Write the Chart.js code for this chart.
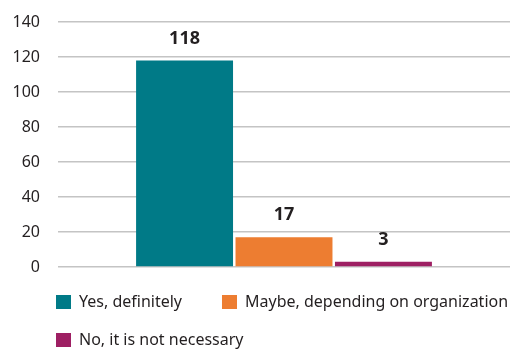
<!DOCTYPE html>
<html>
<head>
<meta charset="utf-8">
<script src="https://cdn.jsdelivr.net/npm/chart.js@4/dist/chart.umd.min.js"></script>
<style>
  html, body { margin: 0; padding: 0; background: #ffffff; }
  #wrap { position: relative; width: 513px; height: 350px; }
</style>
</head>
<body>
<div id="wrap"><canvas id="c" width="513" height="350"></canvas></div>
<script>
const categories = [""];
const seriesLabels = ["Yes, definitely", "Maybe, depending on organization", "No, it is not necessary"];
const seriesValues = [[118], [17], [3]];
const seriesColors = ["#007a87", "#ed7d31", "#9e1f63"];
const yTicks = { min: 0, max: 140, step: 20 };

const TEXT = "#231f20";
const FONT = "'Noto Sans', 'Open Sans', sans-serif";

const valueLabels = {
  id: "valueLabels",
  afterDatasetsDraw(chart) {
    const ctx = chart.ctx;
    ctx.save();
    ctx.font = "bold 18px " + FONT;
    ctx.fillStyle = TEXT;
    ctx.textAlign = "center";
    ctx.textBaseline = "middle";
    chart.data.datasets.forEach((ds, i) => {
      chart.getDatasetMeta(i).data.forEach((bar, j) => {
        ctx.fillText(String(ds.data[j]), bar.x, bar.y - 22);
      });
    });
    ctx.restore();
  }
};

const bottomLegend = {
  id: "bottomLegend",
  afterDraw(chart) {
    const ctx = chart.ctx;
    ctx.save();
    ctx.font = "16px " + FONT;
    ctx.textBaseline = "middle";
    ctx.textAlign = "left";
    const startX = 56, boxW = 15, boxH = 14, gapText = 8, gapItem = 40;
    const rowY = [302, 340];
    const maxRight = 513;
    let x = startX, row = 0;
    chart.data.datasets.forEach((ds, i) => {
      const tw = ctx.measureText(ds.label).width;
      const w = boxW + gapText + tw;
      if (i > 0 && x + w > maxRight) { row++; x = startX; }
      const cy = rowY[row];
      ctx.fillStyle = ds.backgroundColor;
      ctx.fillRect(x, cy - boxH / 2, boxW, boxH);
      ctx.fillStyle = TEXT;
      ctx.fillText(ds.label, x + boxW + gapText, cy);
      x += w + gapItem;
    });
    ctx.restore();
  }
};

new Chart(document.getElementById("c"), {
  type: "bar",
  data: {
    labels: categories,
    datasets: seriesLabels.map((label, i) => ({
      label,
      data: seriesValues[i],
      backgroundColor: seriesColors[i],
      borderWidth: 0,
      categoryPercentage: 0.66,
      barPercentage: 0.975
    }))
  },
  options: {
    responsive: false,
    animation: false,
    devicePixelRatio: 1,
    layout: { padding: { top: 22, left: 12, right: 3, bottom: 75 } },
    plugins: {
      legend: { display: false },
      tooltip: { enabled: false }
    },
    scales: {
      x: {
        ticks: { display: false },
        grid: { display: false },
        border: { display: false }
      },
      y: {
        min: yTicks.min,
        max: yTicks.max,
        ticks: {
          stepSize: yTicks.step,
          padding: 18,
          color: TEXT,
          font: { family: FONT, size: 16 }
        },
        grid: { color: "#c4c4c4", lineWidth: 1.5, drawTicks: false },
        border: { display: false },
        afterFit(scale) { scale.width = 46; scale.paddingTop = 0; }
      }
    }
  },
  plugins: [valueLabels, bottomLegend]
});
</script>
</body>
</html>
